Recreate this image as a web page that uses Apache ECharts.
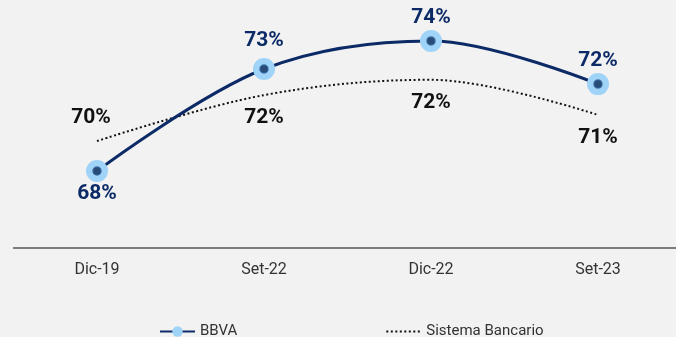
<!DOCTYPE html>
<html>
<head>
<meta charset="utf-8">
<script src="https://cdn.jsdelivr.net/npm/echarts@6/dist/echarts.min.js"></script>
<style>
html,body{margin:0;padding:0;background:#f2f2f2;}
#chart{width:676px;height:337px;}
</style>
</head>
<body>
<div id="chart"></div>
<script>
const categories = ['Dic-19', 'Set-22', 'Dic-22', 'Set-23'];
const bbvaValues = [68.07, 72.8, 74.1, 72.1];
const bbvaLabels = ['68%', '73%', '74%', '72%'];
const sistemaValues = [69.46, 71.59, 72.3, 70.67];
const sistemaLabels = ['70%', '72%', '72%', '71%'];

const navy = '#0c2a66';
const font = 'Roboto';

const chart = echarts.init(document.getElementById('chart'));
chart.setOption({
  backgroundColor: '#f2f2f2',
  animation: false,
  grid: { left: 13.5, width: 668, top: 0, bottom: 89, outerBoundsMode: 'none', containLabel: false },
  xAxis: {
    type: 'category',
    data: categories,
    boundaryGap: true,
    axisLine: { lineStyle: { color: '#555', width: 1.5 } },
    axisTick: { show: false },
    axisLabel: { color: '#333', fontSize: 16, fontFamily: font, margin: 14 }
  },
  yAxis: {
    type: 'value', min: 64.5, max: 76, show: false
  },
  legend: {
    left: 154, top: 319, itemGap: 148, itemWidth: 35, itemHeight: 13,
    data: ['BBVA', 'Sistema Bancario'],
    textStyle: { color: '#333', fontSize: 15, fontFamily: font }
  },
  series: [
    {
      name: 'Sistema Bancario',
      type: 'line',
      data: sistemaValues.map((v, i) => ({
        value: v,
        label: i === 0 ? { position: 'top', distance: 12, offset: [-6, 0] } : {}
      })),
      smooth: 0.35,
      symbol: 'circle',
      symbolSize: 1,
      showAllSymbol: true,
      lineStyle: { color: '#111', width: 2, type: [2, 2.5] },
      itemStyle: { color: 'rgba(0,0,0,0)', borderWidth: 0 },
      label: {
        show: true,
        formatter: p => sistemaLabels[p.dataIndex],
        position: 'bottom', distance: 12,
        color: '#111', fontSize: 21, fontWeight: 'bold', fontFamily: font
      },
      z: 2
    },
    {
      name: 'BBVA',
      type: 'line',
      data: bbvaValues.map((v, i) => ({
        value: v,
        label: i === 0 ? { position: 'bottom', distance: 1 } : (i === 1 ? { offset: [0, -5] } : {})
      })),
      smooth: 0.35,
      symbol: 'circle',
      symbolSize: 22,
      showAllSymbol: true,
      lineStyle: { color: navy, width: 3 },
      itemStyle: { color: '#9fd3f7', borderWidth: 0 },
      label: {
        show: true,
        formatter: p => bbvaLabels[p.dataIndex],
        position: 'top', distance: 2,
        color: navy, fontSize: 21, fontWeight: 'bold', fontFamily: font
      },
      z: 3
    },
    {
      type: 'scatter',
      data: bbvaValues,
      symbol: 'circle',
      symbolSize: 8,
      itemStyle: { color: '#0b2a55', borderColor: '#2f5f98', borderWidth: 1.5 },
      silent: true,
      z: 4
    }
  ]
});
</script>
</body>
</html>
